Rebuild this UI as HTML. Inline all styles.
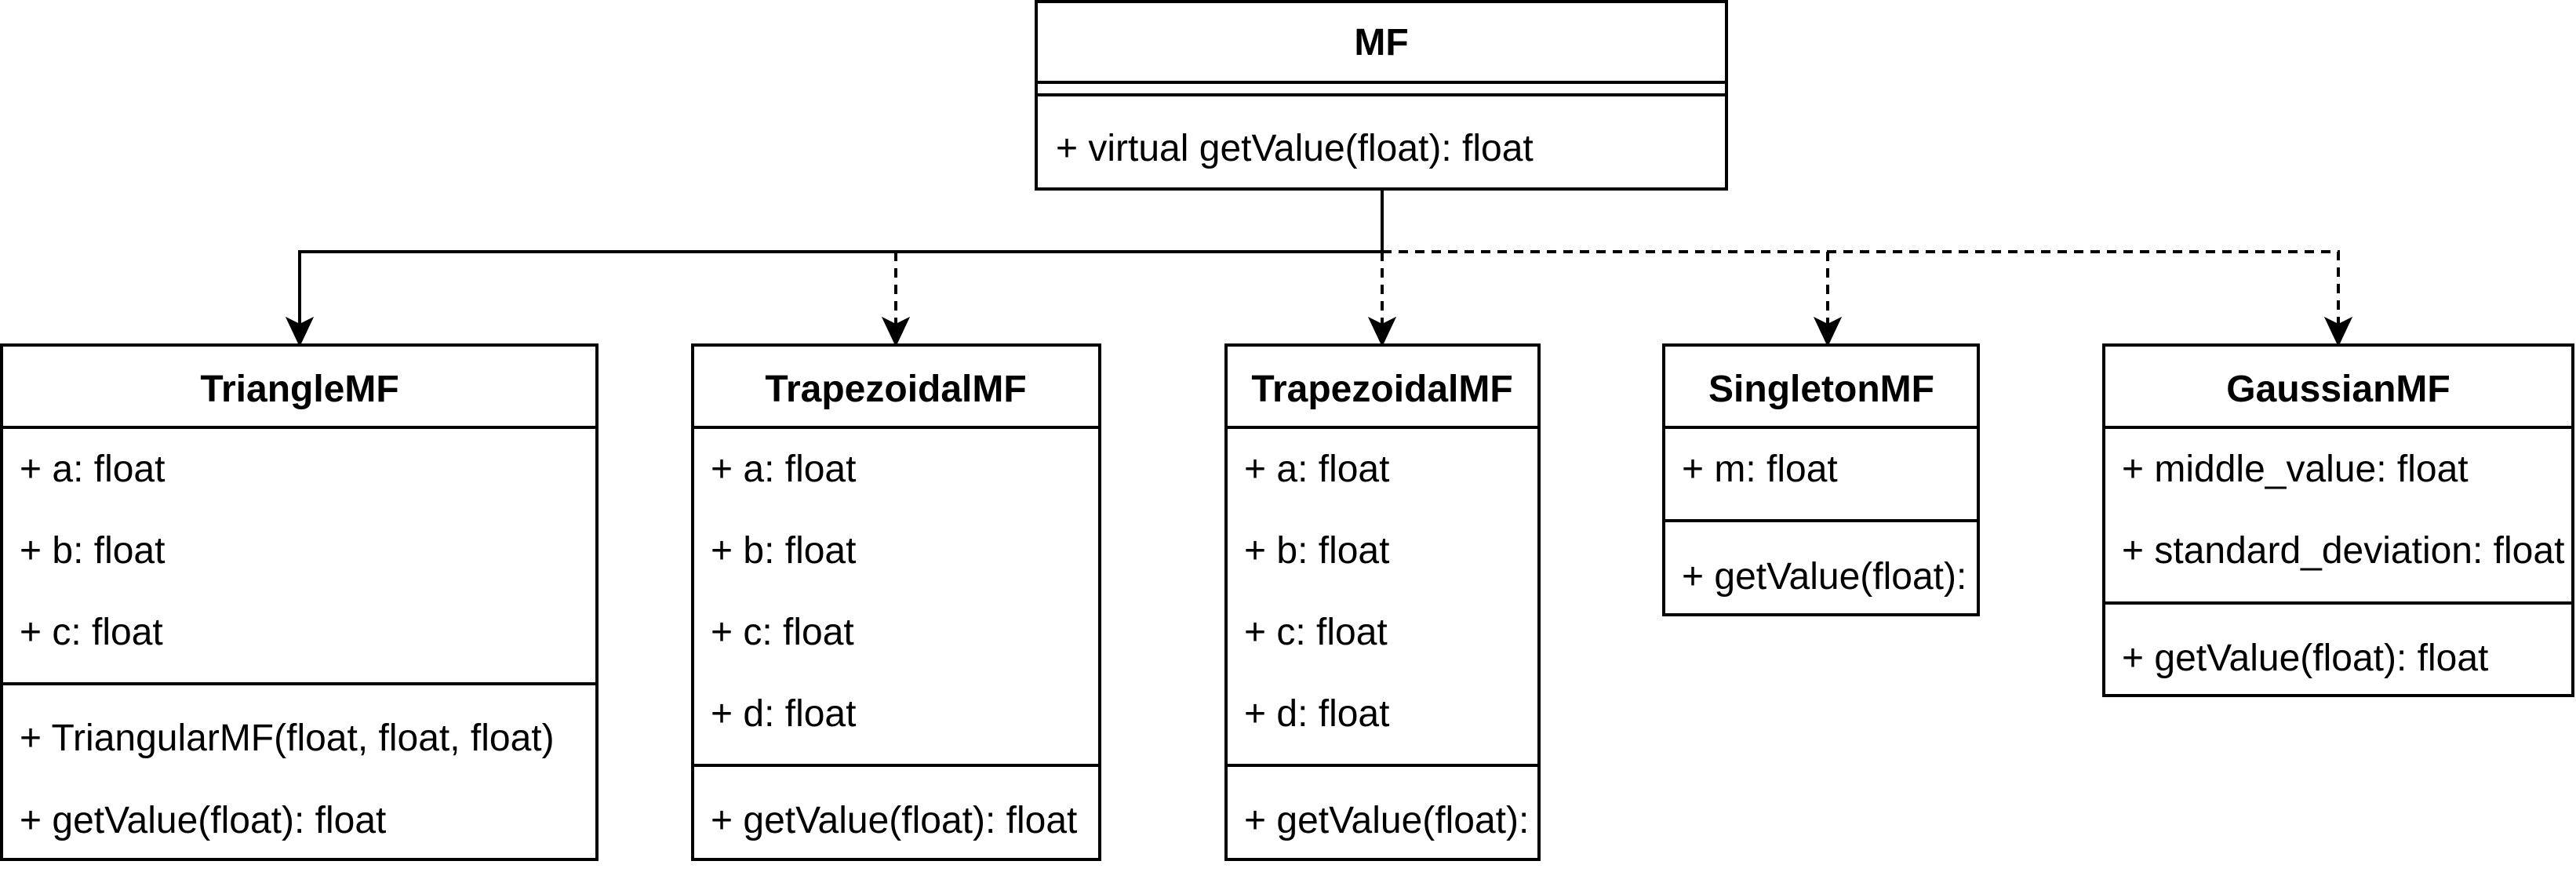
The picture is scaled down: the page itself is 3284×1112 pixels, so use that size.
<!DOCTYPE html>
<html><head><meta charset="utf-8"><style>
html,body{margin:0;padding:0;background:#fff;}
svg{display:block;}
text{font-family:"Liberation Sans",Arial,sans-serif;font-size:48px;fill:#000;}
.t{font-weight:bold;text-anchor:middle;}
</style></head><body>
<svg width="3284" height="1112" viewBox="0 0 3284 1112" xmlns="http://www.w3.org/2000/svg">
<g stroke="#000" stroke-width="4" fill="none">
<path d="M1762 241 V321 H382 V414"/>
<path d="M1142 321 V414" stroke-dasharray="12 9"/>
<path d="M1762 321 V414" stroke-dasharray="12 9"/>
<path d="M1762 321 H2981 V414" stroke-dasharray="12 9"/>
<path d="M2330 321 V414" stroke-dasharray="12 9"/>
</g>
<g fill="#000" stroke="#000" stroke-width="2">
<path d="M382 440 L366 406 L382 414 L398 406 Z"/>
<path d="M1142 440 L1126 406 L1142 414 L1158 406 Z"/>
<path d="M1762 440 L1746 406 L1762 414 L1778 406 Z"/>
<path d="M2330 440 L2314 406 L2330 414 L2346 406 Z"/>
<path d="M2981 440 L2965 406 L2981 414 L2997 406 Z"/>
</g>

<g>
<rect x="1321" y="2" width="880" height="239" fill="#fff" stroke="#000" stroke-width="4"/>
<line x1="1321" y1="105" x2="2201" y2="105" stroke="#000" stroke-width="4"/>
<line x1="1321" y1="121" x2="2201" y2="121" stroke="#000" stroke-width="4"/>
<text class="t" x="1761" y="70">MF</text>
<text x="1346" y="205">+ virtual getValue(float): float</text>
</g>

<g>
<rect x="2" y="440" width="759" height="656" fill="#fff" stroke="#000" stroke-width="4"/>
<line x1="2" y1="545" x2="761" y2="545" stroke="#000" stroke-width="4"/>
<line x1="2" y1="872" x2="761" y2="872" stroke="#000" stroke-width="4"/>
<text class="t" x="382" y="512">TriangleMF</text>
<text x="25" y="614">+ a: float</text>
<text x="25" y="718">+ b: float</text>
<text x="25" y="822">+ c: float</text>
<text x="25" y="957">+ TriangularMF(float, float, float)</text>
<text x="25" y="1062">+ getValue(float): float</text>
</g>

<g>
<rect x="883" y="440" width="519" height="656" fill="#fff" stroke="#000" stroke-width="4"/>
<line x1="883" y1="545" x2="1402" y2="545" stroke="#000" stroke-width="4"/>
<line x1="883" y1="976" x2="1402" y2="976" stroke="#000" stroke-width="4"/>
<text class="t" x="1142" y="512">TrapezoidalMF</text>
<text x="906" y="614">+ a: float</text>
<text x="906" y="718">+ b: float</text>
<text x="906" y="822">+ c: float</text>
<text x="906" y="926">+ d: float</text>
<text x="906" y="1062">+ getValue(float): float</text>
</g>

<g>
<rect x="1563" y="440" width="399" height="656" fill="#fff" stroke="#000" stroke-width="4"/>
<line x1="1563" y1="545" x2="1962" y2="545" stroke="#000" stroke-width="4"/>
<line x1="1563" y1="976" x2="1962" y2="976" stroke="#000" stroke-width="4"/>
<text class="t" x="1762" y="512">TrapezoidalMF</text>
<text x="1586" y="614">+ a: float</text>
<text x="1586" y="718">+ b: float</text>
<text x="1586" y="822">+ c: float</text>
<text x="1586" y="926">+ d: float</text>
<text x="1586" y="1062">+ getValue(float):</text>
</g>

<g>
<rect x="2121" y="440" width="401" height="344" fill="#fff" stroke="#000" stroke-width="4"/>
<line x1="2121" y1="545" x2="2522" y2="545" stroke="#000" stroke-width="4"/>
<line x1="2121" y1="664" x2="2522" y2="664" stroke="#000" stroke-width="4"/>
<text class="t" x="2322" y="512">SingletonMF</text>
<text x="2144" y="614">+ m: float</text>
<text x="2144" y="751">+ getValue(float):</text>
</g>

<g>
<rect x="2682" y="440" width="598" height="447" fill="#fff" stroke="#000" stroke-width="4"/>
<line x1="2682" y1="545" x2="3280" y2="545" stroke="#000" stroke-width="4"/>
<line x1="2682" y1="769" x2="3280" y2="769" stroke="#000" stroke-width="4"/>
<text class="t" x="2981" y="512">GaussianMF</text>
<text x="2705" y="614">+ middle_value: float</text>
<text x="2705" y="718">+ standard_deviation: float</text>
<text x="2705" y="855">+ getValue(float): float</text>
</g>
</svg>
</body></html>
